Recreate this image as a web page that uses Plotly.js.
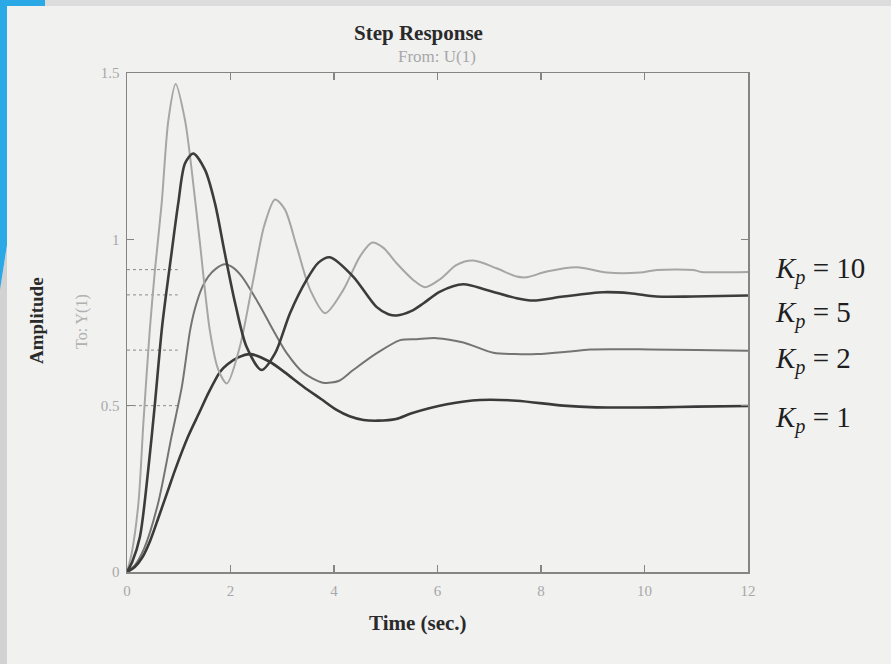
<!DOCTYPE html>
<html>
<head>
<meta charset="utf-8">
<script src="https://cdn.plot.ly/plotly-3.0.1.min.js"></script>
<style>html,body{margin:0;padding:0;background:#f1f1f0;}#chart{width:891px;height:664px;}</style>
</head>
<body>
<div id="chart"></div>
<script>
// Step responses
const tK10 = [0, 0.09, 0.22, 0.32, 0.44, 0.54, 0.67, 0.80, 0.94, 1.12, 1.25, 1.41, 1.60, 1.76, 1.93, 2.18, 2.44, 2.65, 2.86, 3.05, 3.28, 3.54, 3.83, 4.18, 4.50, 4.73, 4.95, 5.21, 5.53, 5.76, 6.05, 6.37, 6.69, 7.14, 7.53, 7.72, 8.11, 8.69, 9.27, 9.91, 10.24, 10.94, 11.1, 12];
const yK10 = [0, 0.056, 0.206, 0.457, 0.727, 0.908, 1.108, 1.359, 1.467, 1.359, 1.208, 0.988, 0.727, 0.61, 0.567, 0.677, 0.878, 1.04, 1.12, 1.09, 0.978, 0.848, 0.778, 0.848, 0.948, 0.99, 0.975, 0.928, 0.878, 0.856, 0.88, 0.923, 0.936, 0.913, 0.888, 0.886, 0.903, 0.916, 0.90, 0.90, 0.908, 0.908, 0.902, 0.902];

const tK5 = [0, 0.10, 0.25, 0.41, 0.54, 0.68, 0.86, 0.99, 1.12, 1.28, 1.51, 1.70, 1.89, 2.09, 2.31, 2.60, 2.86, 3.15, 3.47, 3.70, 3.92, 4.37, 4.82, 5.05, 5.21, 5.50, 5.73, 6.05, 6.5, 6.95, 7.53, 7.85, 8.43, 9.2, 9.72, 10.23, 10.94, 12];
const yK5 = [0, 0.03, 0.106, 0.307, 0.507, 0.74, 0.958, 1.108, 1.228, 1.258, 1.208, 1.108, 0.958, 0.808, 0.677, 0.607, 0.657, 0.778, 0.878, 0.93, 0.946, 0.888, 0.797, 0.775, 0.771, 0.785, 0.808, 0.843, 0.865, 0.848, 0.823, 0.816, 0.828, 0.841, 0.838, 0.828, 0.828, 0.831];

const tK2 = [0, 0.15, 0.33, 0.60, 0.86, 1.06, 1.22, 1.31, 1.45, 1.57, 1.72, 1.89, 2.05, 2.22, 2.54, 2.85, 3.09, 3.40, 3.79, 4.10, 4.37, 4.82, 5.28, 5.60, 5.98, 6.5, 7.08, 7.5, 7.92, 8.5, 8.95, 10.1, 11.0, 12];
const yK2 = [0, 0.02, 0.07, 0.206, 0.407, 0.557, 0.727, 0.79, 0.855, 0.888, 0.912, 0.925, 0.915, 0.888, 0.808, 0.72, 0.657, 0.60, 0.569, 0.575, 0.607, 0.657, 0.697, 0.70, 0.703, 0.69, 0.659, 0.655, 0.655, 0.662, 0.669, 0.669, 0.667, 0.665];

const tK1 = [0, 0.15, 0.30, 0.45, 0.60, 0.78, 0.93, 1.18, 1.40, 1.57, 1.80, 1.95, 2.15, 2.38, 2.76, 3.05, 3.41, 3.75, 4.05, 4.30, 4.57, 4.85, 5.2, 5.5, 6.18, 6.82, 7.53, 8.43, 9.07, 10.3, 11.0, 12];
const yK1 = [0, 0.015, 0.045, 0.095, 0.16, 0.24, 0.307, 0.407, 0.48, 0.537, 0.602, 0.625, 0.645, 0.655, 0.632, 0.60, 0.557, 0.52, 0.487, 0.468, 0.457, 0.455, 0.46, 0.477, 0.504, 0.517, 0.515, 0.50, 0.495, 0.495, 0.497, 0.499];

// steady-state markers (short dotted lines at left)
const steadyValues = [0.909, 0.833, 0.667, 0.5];
const steadyT = [0, 0.98];

const xTicks = [0, 2, 4, 6, 8, 10, 12];
const yTicks = [0, 0.5, 1, 1.5];
const yTickText = ['0', '0.5', '1', '1.5'];
const gainLabels = ['10', '5', '2', '1'];

const serif = 'Liberation Serif, Times New Roman, serif';

const traces = [];
steadyValues.forEach(v => {
  traces.push({x: steadyT, y: [v, v], mode: 'lines', line: {color: '#8a8a8a', width: 1, dash: 'dot'}, hoverinfo: 'skip', showlegend: false});
});
const curves = [
  [tK2, yK2, '#747474', 2],
  [tK1, yK1, '#3a3a3a', 2.6],
  [tK10, yK10, '#a6a6a6', 2],
  [tK5, yK5, '#3c3c3c', 2.6]
];
curves.forEach(c => {
  traces.push({x: c[0], y: c[1], mode: 'lines', line: {color: c[2], width: c[3], shape: 'spline', smoothing: 0.8}, showlegend: false});
});

function px2x(px) { return (px - 127) / 621; }
function py2y(py) { return (572 - py) / 499; }

const labelY = [270, 314, 360, 420];
const annotations = [
  {text: '<b>Step Response</b>', x: px2x(418), y: py2y(33), xref: 'paper', yref: 'paper', showarrow: false, xanchor: 'center', yanchor: 'middle', font: {family: serif, size: 21, color: '#2a2a2a'}},
  {text: 'From: U(1)', x: px2x(437), y: py2y(56), xref: 'paper', yref: 'paper', showarrow: false, xanchor: 'center', yanchor: 'middle', font: {family: serif, size: 17, color: '#a8a8a8'}},
  {text: '<b>Amplitude</b>', x: px2x(36), y: py2y(320), xref: 'paper', yref: 'paper', showarrow: false, textangle: -90, xanchor: 'center', yanchor: 'middle', font: {family: serif, size: 19, color: '#2a2a2a'}},
  {text: 'To: Y(1)', x: px2x(82), y: py2y(322), xref: 'paper', yref: 'paper', showarrow: false, textangle: -90, xanchor: 'center', yanchor: 'middle', font: {family: serif, size: 16, color: '#b0b0b0'}},
  {text: '<b>Time (sec.)</b>', x: px2x(418), y: py2y(623), xref: 'paper', yref: 'paper', showarrow: false, xanchor: 'center', yanchor: 'middle', font: {family: serif, size: 21, color: '#2a2a2a'}}
];
gainLabels.forEach((g, i) => {
  annotations.push({text: '<i>K</i><sub><i>p</i></sub> = ' + g, x: px2x(773), y: py2y(labelY[i]), xref: 'paper', yref: 'paper', showarrow: false, xanchor: 'left', yanchor: 'middle', font: {family: serif, size: 29, color: '#1e1e1e'}});
});

const shapes = [
  {type: 'rect', xref: 'paper', yref: 'paper', x0: px2x(0), x1: px2x(891), y0: py2y(6), y1: py2y(0), fillcolor: '#dcdcdc', line: {width: 0}, layer: 'below'},
  {type: 'path', xref: 'paper', yref: 'paper', path: 'M ' + px2x(0) + ' ' + py2y(290) + ' L ' + px2x(7) + ' ' + py2y(245) + ' L ' + px2x(7) + ' ' + py2y(664) + ' L ' + px2x(0) + ' ' + py2y(664) + ' Z', fillcolor: '#d2d2d2', line: {width: 0}, layer: 'below'},
  {type: 'path', xref: 'paper', yref: 'paper', path: 'M ' + px2x(0) + ' ' + py2y(0) + ' L ' + px2x(45) + ' ' + py2y(0) + ' L ' + px2x(45) + ' ' + py2y(6) + ' L ' + px2x(7) + ' ' + py2y(6) + ' L ' + px2x(7) + ' ' + py2y(245) + ' L ' + px2x(0) + ' ' + py2y(290) + ' Z', fillcolor: '#2ba8e6', line: {width: 0}, layer: 'below'}
];

const axisCommon = {
  showgrid: false, zeroline: false, showline: true, linecolor: '#858585', linewidth: 1.5,
  mirror: 'ticks', ticks: 'inside', ticklen: 7, tickwidth: 1.2, tickcolor: '#858585',
  tickfont: {family: serif, size: 15, color: '#a8a8a8'}, fixedrange: true
};

const layout = {
  width: 891, height: 664,
  margin: {l: 127, r: 143, t: 73, b: 92},
  paper_bgcolor: '#f1f1f0', plot_bgcolor: '#f1f1f0',
  xaxis: Object.assign({}, axisCommon, {range: [0, 12], tickvals: xTicks, ticktext: xTicks.map(String), ticklabelstandoff: 4}),
  yaxis: Object.assign({}, axisCommon, {range: [0, 1.5], tickvals: yTicks, ticktext: yTickText, ticklabelstandoff: 3}),
  annotations: annotations,
  shapes: shapes,
  showlegend: false
};

Plotly.newPlot('chart', traces, layout, {staticPlot: true, displayModeBar: false});
</script>
</body>
</html>
